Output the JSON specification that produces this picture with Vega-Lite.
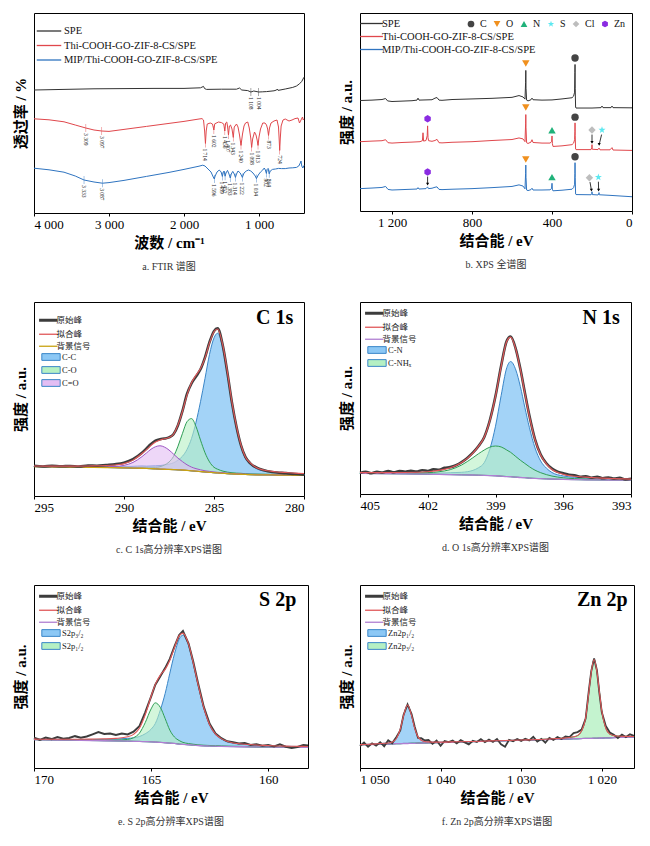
{
  "$schema": "https://vega.github.io/schema/vega-lite/v6.json",
  "background": "white",
  "padding": {"left": 12, "top": 12, "right": 4, "bottom": 4},
  "config": {
    "font": "Liberation Serif, Noto Sans CJK SC",
    "view": {"stroke": "#000", "strokeWidth": 1},
    "axis": {"grid": false, "domain": false, "labelFont": "Liberation Serif", "labelFontSize": 13, "labelColor": "#000", "titleFont": "Liberation Serif, Noto Sans CJK SC", "titleFontSize": 15, "titleFontWeight": "bold", "titleColor": "#000", "tickColor": "#000", "tickSize": 3, "labelPadding": 2, "titlePadding": 4},
    "axisY": {"labels": false, "ticks": false, "titlePadding": 6},
    "title": {"font": "Liberation Serif, Noto Sans CJK SC", "fontSize": 10, "fontWeight": "normal", "color": "#333", "orient": "bottom", "offset": 12}
  },
  "datasets": {
    "ftir": [
      {"wn":4000,"s":"spe","v":61.5},{"wn":3600,"s":"spe","v":61.8},{"wn":3200,"s":"spe","v":62.1},{"wn":2800,"s":"spe","v":62.2},{"wn":2400,"s":"spe","v":62.3},{"wn":2000,"s":"spe","v":62.3},{"wn":1780,"s":"spe","v":62.6},{"wn":1740,"s":"spe","v":63.3},{"wn":1725,"s":"spe","v":62.2},{"wn":1700,"s":"spe","v":61.8},{"wn":1500,"s":"spe","v":61.9},{"wn":1300,"s":"spe","v":61.9},{"wn":1260,"s":"spe","v":62.5},{"wn":1230,"s":"spe","v":61.5},{"wn":1150,"s":"spe","v":61.2},{"wn":1108,"s":"spe","v":60.5},{"wn":1070,"s":"spe","v":61.0},{"wn":1004,"s":"spe","v":60.5},{"wn":950,"s":"spe","v":60.6},{"wn":900,"s":"spe","v":60.7},{"wn":800,"s":"spe","v":61.1},{"wn":765,"s":"spe","v":61.5},{"wn":755,"s":"spe","v":62.0},{"wn":745,"s":"spe","v":61.3},{"wn":650,"s":"spe","v":62.0},{"wn":550,"s":"spe","v":62.8},{"wn":500,"s":"spe","v":63.5},{"wn":460,"s":"spe","v":64.6},{"wn":430,"s":"spe","v":65.8},{"wn":400,"s":"spe","v":67.9},
      {"wn":4000,"s":"thi","v":47.1},{"wn":3800,"s":"thi","v":46.6},{"wn":3600,"s":"thi","v":45.6},{"wn":3450,"s":"thi","v":44.0},{"wn":3309,"s":"thi","v":42.5},{"wn":3200,"s":"thi","v":41.5},{"wn":3097,"s":"thi","v":41.0},{"wn":3000,"s":"thi","v":40.8},{"wn":2800,"s":"thi","v":41.8},{"wn":2500,"s":"thi","v":43.3},{"wn":2200,"s":"thi","v":44.8},{"wn":2000,"s":"thi","v":45.8},{"wn":1800,"s":"thi","v":47.0},{"wn":1760,"s":"thi","v":47.2},{"wn":1740,"s":"thi","v":46.5},{"wn":1725,"s":"thi","v":41.0},{"wn":1714,"s":"thi","v":34.8},{"wn":1704,"s":"thi","v":41.0},{"wn":1690,"s":"thi","v":44.5},{"wn":1650,"s":"thi","v":45.0},{"wn":1620,"s":"thi","v":44.5},{"wn":1602,"s":"thi","v":41.5},{"wn":1590,"s":"thi","v":44.6},{"wn":1540,"s":"thi","v":45.5},{"wn":1500,"s":"thi","v":45.2},{"wn":1470,"s":"thi","v":44.5},{"wn":1456,"s":"thi","v":41.0},{"wn":1445,"s":"thi","v":45.0},{"wn":1430,"s":"thi","v":45.5},{"wn":1420,"s":"thi","v":43.5},{"wn":1407,"s":"thi","v":39.0},{"wn":1395,"s":"thi","v":43.5},{"wn":1380,"s":"thi","v":44.0},{"wn":1360,"s":"thi","v":42.0},{"wn":1343,"s":"thi","v":37.8},{"wn":1330,"s":"thi","v":43.0},{"wn":1300,"s":"thi","v":44.5},{"wn":1280,"s":"thi","v":43.0},{"wn":1260,"s":"thi","v":39.0},{"wn":1240,"s":"thi","v":33.8},{"wn":1220,"s":"thi","v":39.5},{"wn":1200,"s":"thi","v":43.5},{"wn":1180,"s":"thi","v":45.0},{"wn":1150,"s":"thi","v":45.5},{"wn":1130,"s":"thi","v":42.5},{"wn":1110,"s":"thi","v":37.5},{"wn":1098,"s":"thi","v":32.8},{"wn":1085,"s":"thi","v":37.0},{"wn":1060,"s":"thi","v":40.5},{"wn":1040,"s":"thi","v":39.0},{"wn":1025,"s":"thi","v":36.5},{"wn":1013,"s":"thi","v":33.8},{"wn":1000,"s":"thi","v":38.0},{"wn":980,"s":"thi","v":42.0},{"wn":950,"s":"thi","v":45.0},{"wn":920,"s":"thi","v":45.0},{"wn":900,"s":"thi","v":44.0},{"wn":885,"s":"thi","v":42.0},{"wn":873,"s":"thi","v":38.8},{"wn":860,"s":"thi","v":42.5},{"wn":840,"s":"thi","v":45.0},{"wn":800,"s":"thi","v":46.0},{"wn":760,"s":"thi","v":46.5},{"wn":740,"s":"thi","v":43.0},{"wn":730,"s":"thi","v":36.0},{"wn":724,"s":"thi","v":31.3},{"wn":716,"s":"thi","v":37.5},{"wn":705,"s":"thi","v":43.5},{"wn":680,"s":"thi","v":46.5},{"wn":650,"s":"thi","v":47.0},{"wn":600,"s":"thi","v":46.0},{"wn":560,"s":"thi","v":46.5},{"wn":520,"s":"thi","v":47.2},{"wn":480,"s":"thi","v":47.5},{"wn":460,"s":"thi","v":45.0},{"wn":440,"s":"thi","v":46.5},{"wn":420,"s":"thi","v":48.0},{"wn":410,"s":"thi","v":46.5},{"wn":400,"s":"thi","v":47.0},
      {"wn":4000,"s":"mip","v":22.4},{"wn":3800,"s":"mip","v":21.6},{"wn":3600,"s":"mip","v":20.4},{"wn":3450,"s":"mip","v":18.5},{"wn":3333,"s":"mip","v":16.5},{"wn":3200,"s":"mip","v":15.5},{"wn":3087,"s":"mip","v":14.9},{"wn":3000,"s":"mip","v":15.2},{"wn":2800,"s":"mip","v":16.3},{"wn":2500,"s":"mip","v":18.3},{"wn":2200,"s":"mip","v":20.3},{"wn":2000,"s":"mip","v":21.8},{"wn":1800,"s":"mip","v":23.4},{"wn":1750,"s":"mip","v":23.9},{"wn":1720,"s":"mip","v":23.5},{"wn":1680,"s":"mip","v":22.0},{"wn":1640,"s":"mip","v":20.5},{"wn":1610,"s":"mip","v":18.0},{"wn":1596,"s":"mip","v":17.0},{"wn":1585,"s":"mip","v":18.5},{"wn":1560,"s":"mip","v":20.5},{"wn":1530,"s":"mip","v":21.5},{"wn":1505,"s":"mip","v":20.5},{"wn":1489,"s":"mip","v":18.3},{"wn":1475,"s":"mip","v":20.5},{"wn":1465,"s":"mip","v":21.0},{"wn":1452,"s":"mip","v":18.4},{"wn":1440,"s":"mip","v":20.0},{"wn":1420,"s":"mip","v":21.3},{"wn":1400,"s":"mip","v":19.5},{"wn":1383,"s":"mip","v":17.5},{"wn":1370,"s":"mip","v":19.5},{"wn":1350,"s":"mip","v":20.8},{"wn":1330,"s":"mip","v":19.5},{"wn":1314,"s":"mip","v":17.8},{"wn":1300,"s":"mip","v":19.5},{"wn":1280,"s":"mip","v":21.0},{"wn":1250,"s":"mip","v":20.0},{"wn":1222,"s":"mip","v":17.8},{"wn":1200,"s":"mip","v":20.0},{"wn":1170,"s":"mip","v":21.0},{"wn":1140,"s":"mip","v":21.5},{"wn":1110,"s":"mip","v":21.0},{"wn":1080,"s":"mip","v":20.0},{"wn":1050,"s":"mip","v":18.5},{"wn":1034,"s":"mip","v":17.2},{"wn":1010,"s":"mip","v":19.0},{"wn":980,"s":"mip","v":20.5},{"wn":950,"s":"mip","v":21.5},{"wn":930,"s":"mip","v":22.5},{"wn":915,"s":"mip","v":21.5},{"wn":902,"s":"mip","v":19.8},{"wn":890,"s":"mip","v":21.8},{"wn":878,"s":"mip","v":22.3},{"wn":864,"s":"mip","v":19.6},{"wn":850,"s":"mip","v":21.0},{"wn":820,"s":"mip","v":21.8},{"wn":780,"s":"mip","v":22.0},{"wn":740,"s":"mip","v":22.3},{"wn":700,"s":"mip","v":22.2},{"wn":650,"s":"mip","v":22.2},{"wn":600,"s":"mip","v":22.5},{"wn":550,"s":"mip","v":22.6},{"wn":500,"s":"mip","v":22.8},{"wn":470,"s":"mip","v":23.5},{"wn":450,"s":"mip","v":25.0},{"wn":440,"s":"mip","v":26.0},{"wn":430,"s":"mip","v":23.5},{"wn":415,"s":"mip","v":22.5},{"wn":400,"s":"mip","v":23.8}
    ],
    "ftirPk": [
      {"wn":1108,"s":"spe","v":60.5,"t":"1 108"},{"wn":1004,"s":"spe","v":60.5,"t":"1 004"},
      {"wn":3309,"s":"thi","v":42.5,"t":"3 309"},{"wn":3097,"s":"thi","v":41.0,"t":"3 097"},{"wn":1714,"s":"thi","v":34.8,"t":"1 714"},{"wn":1602,"s":"thi","v":41.5,"t":"1 602"},{"wn":1456,"s":"thi","v":41.0,"t":"1 456"},{"wn":1407,"s":"thi","v":39.0,"t":"1 407"},{"wn":1343,"s":"thi","v":37.8,"t":"1 343"},{"wn":1240,"s":"thi","v":33.8,"t":"1 240"},{"wn":1098,"s":"thi","v":32.8,"t":"1 098"},{"wn":1013,"s":"thi","v":33.8,"t":"1 013"},{"wn":873,"s":"thi","v":38.8,"t":"873"},{"wn":724,"s":"thi","v":31.3,"t":"724"},
      {"wn":3333,"s":"mip","v":16.5,"t":"3 333"},{"wn":3087,"s":"mip","v":14.9,"t":"3 087"},{"wn":1596,"s":"mip","v":17.0,"t":"1 596"},{"wn":1489,"s":"mip","v":18.3,"t":"1 489"},{"wn":1452,"s":"mip","v":18.4,"t":"1 452"},{"wn":1383,"s":"mip","v":17.5,"t":"1 383"},{"wn":1314,"s":"mip","v":17.8,"t":"1 314"},{"wn":1222,"s":"mip","v":17.8,"t":"1 222"},{"wn":1034,"s":"mip","v":17.2,"t":"1 034"},{"wn":902,"s":"mip","v":19.8,"t":"902"},{"wn":864,"s":"mip","v":19.6,"t":"864"}
    ],
    "survey": [
      {"be":1360,"s":"spe","v":55.8},{"be":1300,"s":"spe","v":56.0},{"be":1250,"s":"spe","v":56.3},{"be":1232,"s":"spe","v":56.8},{"be":1222,"s":"spe","v":55.6},{"be":1200,"s":"spe","v":55.3},{"be":1150,"s":"spe","v":55.5},{"be":1100,"s":"spe","v":55.7},{"be":1075,"s":"spe","v":56.0},{"be":1070,"s":"spe","v":57.0},{"be":1065,"s":"spe","v":56.0},{"be":1000,"s":"spe","v":56.2},{"be":985,"s":"spe","v":57.0},{"be":975,"s":"spe","v":57.3},{"be":965,"s":"spe","v":56.0},{"be":950,"s":"spe","v":55.9},{"be":900,"s":"spe","v":56.3},{"be":800,"s":"spe","v":56.6},{"be":700,"s":"spe","v":56.9},{"be":600,"s":"spe","v":57.4},{"be":565,"s":"spe","v":58.3},{"be":545,"s":"spe","v":57.6},{"be":535,"s":"spe","v":56.5},{"be":532,"s":"spe","v":65.0},{"be":531,"s":"spe","v":71.0},{"be":530,"s":"spe","v":62.0},{"be":527,"s":"spe","v":56.0},{"be":520,"s":"spe","v":55.6},{"be":505,"s":"spe","v":56.2},{"be":500,"s":"spe","v":57.0},{"be":495,"s":"spe","v":56.2},{"be":450,"s":"spe","v":56.0},{"be":400,"s":"spe","v":56.1},{"be":350,"s":"spe","v":56.6},{"be":300,"s":"spe","v":57.2},{"be":292,"s":"spe","v":58.0},{"be":287,"s":"spe","v":60.0},{"be":285.5,"s":"spe","v":70.0},{"be":284.8,"s":"spe","v":74.0},{"be":284,"s":"spe","v":62.0},{"be":282,"s":"spe","v":52.5},{"be":280,"s":"spe","v":52.0},{"be":200,"s":"spe","v":52.0},{"be":155,"s":"spe","v":52.2},{"be":150,"s":"spe","v":53.0},{"be":145,"s":"spe","v":52.2},{"be":105,"s":"spe","v":52.2},{"be":100,"s":"spe","v":53.0},{"be":95,"s":"spe","v":52.2},{"be":0,"s":"spe","v":52.1},
      {"be":1360,"s":"thi","v":35.0},{"be":1300,"s":"thi","v":35.3},{"be":1250,"s":"thi","v":35.5},{"be":1232,"s":"thi","v":36.0},{"be":1220,"s":"thi","v":34.5},{"be":1200,"s":"thi","v":34.3},{"be":1150,"s":"thi","v":34.6},{"be":1100,"s":"thi","v":34.8},{"be":1060,"s":"thi","v":35.0},{"be":1048,"s":"thi","v":35.5},{"be":1045,"s":"thi","v":39.5},{"be":1042,"s":"thi","v":35.3},{"be":1030,"s":"thi","v":35.6},{"be":1024,"s":"thi","v":38.0},{"be":1022,"s":"thi","v":43.0},{"be":1020,"s":"thi","v":37.0},{"be":1017,"s":"thi","v":35.5},{"be":1000,"s":"thi","v":35.2},{"be":985,"s":"thi","v":35.6},{"be":975,"s":"thi","v":36.2},{"be":965,"s":"thi","v":34.5},{"be":950,"s":"thi","v":34.4},{"be":900,"s":"thi","v":34.7},{"be":800,"s":"thi","v":35.0},{"be":700,"s":"thi","v":35.6},{"be":600,"s":"thi","v":36.1},{"be":565,"s":"thi","v":36.9},{"be":545,"s":"thi","v":36.4},{"be":535,"s":"thi","v":35.0},{"be":532,"s":"thi","v":44.0},{"be":531,"s":"thi","v":48.7},{"be":530,"s":"thi","v":42.0},{"be":527,"s":"thi","v":34.5},{"be":520,"s":"thi","v":34.1},{"be":505,"s":"thi","v":34.8},{"be":500,"s":"thi","v":36.0},{"be":495,"s":"thi","v":34.6},{"be":450,"s":"thi","v":34.3},{"be":410,"s":"thi","v":34.3},{"be":402,"s":"thi","v":35.0},{"be":400,"s":"thi","v":37.9},{"be":398,"s":"thi","v":34.0},{"be":395,"s":"thi","v":32.6},{"be":350,"s":"thi","v":32.9},{"be":300,"s":"thi","v":33.5},{"be":292,"s":"thi","v":34.3},{"be":287,"s":"thi","v":36.0},{"be":285.5,"s":"thi","v":40.0},{"be":284.8,"s":"thi","v":44.5},{"be":284,"s":"thi","v":38.0},{"be":282,"s":"thi","v":31.3},{"be":280,"s":"thi","v":31.0},{"be":205,"s":"thi","v":31.0},{"be":201,"s":"thi","v":32.0},{"be":200,"s":"thi","v":33.5},{"be":199,"s":"thi","v":31.2},{"be":170,"s":"thi","v":31.0},{"be":165,"s":"thi","v":31.8},{"be":160,"s":"thi","v":30.9},{"be":110,"s":"thi","v":30.9},{"be":100,"s":"thi","v":32.0},{"be":95,"s":"thi","v":30.8},{"be":0,"s":"thi","v":30.6},
      {"be":1360,"s":"mip","v":11.3},{"be":1300,"s":"mip","v":11.6},{"be":1250,"s":"mip","v":11.9},{"be":1232,"s":"mip","v":12.4},{"be":1220,"s":"mip","v":10.9},{"be":1200,"s":"mip","v":10.6},{"be":1150,"s":"mip","v":10.8},{"be":1100,"s":"mip","v":11.0},{"be":1075,"s":"mip","v":11.1},{"be":1070,"s":"mip","v":11.8},{"be":1065,"s":"mip","v":11.1},{"be":1030,"s":"mip","v":11.3},{"be":1022,"s":"mip","v":12.2},{"be":1018,"s":"mip","v":11.3},{"be":1000,"s":"mip","v":11.5},{"be":985,"s":"mip","v":12.0},{"be":975,"s":"mip","v":12.2},{"be":965,"s":"mip","v":10.9},{"be":950,"s":"mip","v":10.8},{"be":900,"s":"mip","v":11.0},{"be":800,"s":"mip","v":11.3},{"be":700,"s":"mip","v":11.8},{"be":600,"s":"mip","v":12.4},{"be":565,"s":"mip","v":13.2},{"be":545,"s":"mip","v":12.6},{"be":535,"s":"mip","v":11.2},{"be":532,"s":"mip","v":19.0},{"be":531,"s":"mip","v":23.2},{"be":530,"s":"mip","v":17.0},{"be":527,"s":"mip","v":10.6},{"be":520,"s":"mip","v":10.3},{"be":505,"s":"mip","v":10.8},{"be":500,"s":"mip","v":11.5},{"be":495,"s":"mip","v":10.6},{"be":450,"s":"mip","v":10.6},{"be":410,"s":"mip","v":10.7},{"be":402,"s":"mip","v":11.4},{"be":400,"s":"mip","v":14.0},{"be":398,"s":"mip","v":10.6},{"be":395,"s":"mip","v":10.2},{"be":350,"s":"mip","v":10.5},{"be":300,"s":"mip","v":11.0},{"be":292,"s":"mip","v":11.8},{"be":287,"s":"mip","v":13.5},{"be":285.5,"s":"mip","v":19.0},{"be":284.8,"s":"mip","v":24.4},{"be":284,"s":"mip","v":17.0},{"be":282,"s":"mip","v":8.6},{"be":280,"s":"mip","v":8.3},{"be":205,"s":"mip","v":8.2},{"be":201,"s":"mip","v":8.7},{"be":200,"s":"mip","v":9.7},{"be":199,"s":"mip","v":8.3},{"be":170,"s":"mip","v":8.1},{"be":166,"s":"mip","v":8.6},{"be":165,"s":"mip","v":9.3},{"be":164,"s":"mip","v":8.2},{"be":110,"s":"mip","v":7.9},{"be":0,"s":"mip","v":7.2}
    ],
    "surveyMk": [
      {"be":531,"v":74.5,"el":"O"},{"be":284.8,"v":77.3,"el":"C"},
      {"be":1022,"v":46.6,"el":"Zn"},{"be":531,"v":52.3,"el":"O"},{"be":400,"v":40.8,"el":"N"},{"be":284.8,"v":47.4,"el":"C"},{"be":200,"v":40.9,"el":"Cl"},{"be":150,"v":40.9,"el":"S"},
      {"be":1022,"v":19.7,"el":"Zn"},{"be":531,"v":26.0,"el":"O"},{"be":400,"v":17.1,"el":"N"},{"be":284.8,"v":27.4,"el":"C"},{"be":213,"v":16.8,"el":"Cl"},{"be":168,"v":17.1,"el":"S"}
    ],
    "surveyAr": [
      {"be":200,"v":38.6,"be2":200,"v2":34.6},{"be":152,"v":38.6,"be2":164,"v2":33.6},
      {"be":1022,"v":17.4,"be2":1022,"v2":13.6},{"be":210,"v":14.6,"be2":203,"v2":10.6},{"be":168,"v":14.8,"be2":167,"v2":10.6}
    ],
    "c1s": [
      {"be":295,"bg":15.2,"cc":15.4,"co":15.3,"cdo":15.3,"fit":15.5},{"be":294,"bg":15.0,"cc":15.2,"co":15.1,"cdo":15.1,"fit":15.4},{"be":293,"bg":14.9,"cc":15.2,"co":15.0,"cdo":15.0,"fit":15.4},{"be":292,"bg":14.8,"cc":15.2,"co":14.9,"cdo":15.0,"fit":15.5},{"be":291,"bg":14.7,"cc":15.2,"co":14.9,"cdo":15.1,"fit":15.7},{"be":290.5,"bg":14.6,"cc":15.2,"co":14.8,"cdo":15.2,"fit":16.0},{"be":290,"bg":14.5,"cc":15.2,"co":14.8,"cdo":15.8,"fit":16.7},{"be":289.5,"bg":14.4,"cc":15.3,"co":14.7,"cdo":17.3,"fit":18.5},{"be":289,"bg":14.3,"cc":15.5,"co":14.8,"cdo":20.3,"fit":21.9},{"be":288.75,"bg":14.2,"cc":15.4,"co":14.8,"cdo":22.2,"fit":23.9},{"be":288.5,"bg":14.1,"cc":15.5,"co":14.8,"cdo":24.1,"fit":26.1},{"be":288.25,"bg":14.0,"cc":15.6,"co":14.8,"cdo":25.4,"fit":27.8},{"be":288,"bg":13.9,"cc":15.7,"co":15.1,"cdo":25.9,"fit":28.9},{"be":287.75,"bg":13.8,"cc":16.0,"co":16.0,"cdo":25.2,"fit":29.5},{"be":287.5,"bg":13.7,"cc":16.4,"co":17.5,"cdo":23.7,"fit":30.1},{"be":287.25,"bg":13.6,"cc":17.1,"co":20.4,"cdo":21.6,"fit":31.8},{"be":287,"bg":13.5,"cc":18.5,"co":25.7,"cdo":19.5,"fit":36.7},{"be":286.75,"bg":13.4,"cc":20.5,"co":32.3,"cdo":17.7,"fit":43.7},{"be":286.5,"bg":13.2,"cc":24.0,"co":38.3,"cdo":16.1,"fit":52.0},{"be":286.25,"bg":13.0,"cc":29.6,"co":39.9,"cdo":14.9,"fit":58.4},{"be":286,"bg":12.8,"cc":38.0,"co":35.8,"cdo":14.1,"fit":62.3},{"be":285.75,"bg":12.6,"cc":48.6,"co":28.8,"cdo":13.5,"fit":65.7},{"be":285.5,"bg":12.4,"cc":60.6,"co":22.3,"cdo":13.0,"fit":71.1},{"be":285.25,"bg":12.2,"cc":73.0,"co":17.6,"cdo":12.7,"fit":78.9},{"be":285,"bg":12.0,"cc":81.5,"co":14.8,"cdo":12.4,"fit":84.7},{"be":284.8,"bg":11.9,"cc":83.9,"co":13.8,"cdo":12.2,"fit":86.1},{"be":284.5,"bg":11.7,"cc":75.8,"co":12.8,"cdo":12.0,"fit":77.2},{"be":284.25,"bg":11.5,"cc":62.6,"co":12.3,"cdo":11.8,"fit":63.6},{"be":284,"bg":11.4,"cc":47.4,"co":12.0,"cdo":11.6,"fit":48.3},{"be":283.75,"bg":11.3,"cc":35.1,"co":11.8,"cdo":11.5,"fit":35.9},{"be":283.5,"bg":11.2,"cc":25.6,"co":11.7,"cdo":11.4,"fit":26.3},{"be":283.25,"bg":11.1,"cc":19.4,"co":11.5,"cdo":11.3,"fit":20.0},{"be":283,"bg":11.0,"cc":16.6,"co":11.4,"cdo":11.2,"fit":17.2},{"be":282.5,"bg":10.9,"cc":13.5,"co":11.3,"cdo":11.1,"fit":14.0},{"be":282,"bg":10.9,"cc":12.6,"co":11.2,"cdo":11.0,"fit":13.0},{"be":281.5,"bg":10.8,"cc":12.0,"co":11.1,"cdo":10.9,"fit":12.4},{"be":281,"bg":10.8,"cc":11.7,"co":11.0,"cdo":10.9,"fit":12.1},{"be":280.5,"bg":10.7,"cc":11.5,"co":10.9,"cdo":10.8,"fit":11.8},{"be":280,"bg":10.7,"cc":11.3,"co":10.9,"cdo":10.8,"fit":11.6}
    ],
    "c1sRaw": [
      {"be":295,"v":15.6},{"be":294.5,"v":15.2},{"be":294,"v":15.6},{"be":293.5,"v":15.3},{"be":293,"v":15.5},{"be":292.5,"v":15.2},{"be":292,"v":15.7},{"be":291.5,"v":15.6},{"be":291,"v":16.0},{"be":290.5,"v":16.4},{"be":290,"v":17.2},{"be":289.5,"v":19.0},{"be":289,"v":22.3},{"be":288.75,"v":24.5},{"be":288.5,"v":26.8},{"be":288.25,"v":28.5},{"be":288,"v":29.3},{"be":287.75,"v":29.6},{"be":287.5,"v":30.2},{"be":287.25,"v":31.8},{"be":287,"v":36.5},{"be":286.75,"v":43.9},{"be":286.5,"v":52.6},{"be":286.25,"v":58.0},{"be":286,"v":61.6},{"be":285.75,"v":65.3},{"be":285.5,"v":71.5},{"be":285.25,"v":79.3},{"be":285,"v":85.0},{"be":284.8,"v":86.4},{"be":284.5,"v":77.0},{"be":284.25,"v":63.2},{"be":284,"v":48.0},{"be":283.75,"v":35.6},{"be":283.5,"v":26.1},{"be":283.25,"v":20.0},{"be":283,"v":17.0},{"be":282.5,"v":14.1},{"be":282,"v":12.8},{"be":281.5,"v":12.1},{"be":281,"v":11.8},{"be":280.5,"v":11.3},{"be":280,"v":11.0}
    ],
    "n1s": [
      {"be":405,"bg":10.7,"cn":10.9,"nh":10.9,"fit":11.1},{"be":404,"bg":10.6,"cn":10.8,"nh":10.9,"fit":11.1},{"be":403,"bg":10.5,"cn":10.8,"nh":10.9,"fit":11.2},{"be":402,"bg":10.3,"cn":10.8,"nh":11.1,"fit":11.6},{"be":401.5,"bg":10.2,"cn":10.9,"nh":11.6,"fit":12.3},{"be":401,"bg":10.1,"cn":11.1,"nh":12.7,"fit":13.7},{"be":400.5,"bg":10.0,"cn":11.3,"nh":15.1,"fit":16.4},{"be":400,"bg":9.9,"cn":12.3,"nh":18.9,"fit":21.3},{"be":399.75,"bg":9.8,"cn":13.7,"nh":21.0,"fit":24.9},{"be":399.5,"bg":9.7,"cn":16.3,"nh":22.9,"fit":29.5},{"be":399.25,"bg":9.6,"cn":23.4,"nh":24.4,"fit":38.2},{"be":399,"bg":9.5,"cn":35.3,"nh":25.0,"fit":50.8},{"be":398.75,"bg":9.3,"cn":51.3,"nh":24.5,"fit":66.5},{"be":398.5,"bg":9.1,"cn":65.8,"nh":22.9,"fit":79.6},{"be":398.33,"bg":9.0,"cn":69.0,"nh":21.7,"fit":81.7},{"be":398.1,"bg":8.8,"cn":64.6,"nh":19.5,"fit":75.3},{"be":397.9,"bg":8.6,"cn":56.0,"nh":17.6,"fit":65.0},{"be":397.7,"bg":8.5,"cn":45.1,"nh":15.9,"fit":52.5},{"be":397.5,"bg":8.3,"cn":34.7,"nh":14.2,"fit":40.6},{"be":397.25,"bg":8.1,"cn":24.0,"nh":12.4,"fit":28.3},{"be":397,"bg":8.0,"cn":17.2,"nh":11.1,"fit":20.3},{"be":396.75,"bg":7.9,"cn":13.5,"nh":10.1,"fit":15.7},{"be":396.5,"bg":7.8,"cn":11.2,"nh":9.35,"fit":12.75},{"be":396,"bg":7.6,"cn":9.4,"nh":8.45,"fit":10.25},{"be":395.5,"bg":7.5,"cn":8.7,"nh":8.0,"fit":9.25},{"be":395,"bg":7.4,"cn":8.36,"nh":7.8,"fit":8.76},{"be":394,"bg":7.3,"cn":7.84,"nh":7.58,"fit":8.1},{"be":393,"bg":7.2,"cn":7.56,"nh":7.39,"fit":7.75}
    ],
    "n1sRaw": [
      {"be":405,"v":11.0},{"be":404.75,"v":11.6},{"be":404.5,"v":10.8},{"be":404.25,"v":11.5},{"be":404,"v":11.2},{"be":403.75,"v":11.9},{"be":403.5,"v":11.3},{"be":403.25,"v":12.0},{"be":403,"v":11.6},{"be":402.75,"v":12.1},{"be":402.5,"v":11.7},{"be":402.25,"v":12.4},{"be":402,"v":12.0},{"be":401.75,"v":12.8},{"be":401.5,"v":12.6},{"be":401.25,"v":13.6},{"be":401,"v":14.0},{"be":400.75,"v":15.0},{"be":400.5,"v":16.6},{"be":400.25,"v":18.8},{"be":400,"v":21.5},{"be":399.75,"v":25.0},{"be":399.5,"v":29.6},{"be":399.25,"v":38.4},{"be":399,"v":51.0},{"be":398.75,"v":66.8},{"be":398.5,"v":79.8},{"be":398.33,"v":82.0},{"be":398.1,"v":75.5},{"be":397.9,"v":65.2},{"be":397.7,"v":52.8},{"be":397.5,"v":40.9},{"be":397.25,"v":28.5},{"be":397,"v":20.6},{"be":396.75,"v":16.0},{"be":396.5,"v":13.2},{"be":396.25,"v":11.6},{"be":396,"v":10.8},{"be":395.75,"v":10.0},{"be":395.5,"v":9.8},{"be":395.25,"v":9.0},{"be":395,"v":9.2},{"be":394.75,"v":8.5},{"be":394.5,"v":9.0},{"be":394.25,"v":8.2},{"be":394,"v":8.6},{"be":393.75,"v":8.0},{"be":393.5,"v":8.4},{"be":393.25,"v":7.6},{"be":393,"v":7.9}
    ],
    "s2p": [
      {"be":170,"bg":15.5,"s32":15.7,"s12":15.56,"fit":15.8},{"be":169.5,"bg":15.4,"s32":15.67,"s12":15.46,"fit":15.7},{"be":169,"bg":15.3,"s32":15.63,"s12":15.38,"fit":15.7},{"be":168.5,"bg":15.2,"s32":15.56,"s12":15.3,"fit":15.7},{"be":168,"bg":15.1,"s32":15.55,"s12":15.23,"fit":15.7},{"be":167.5,"bg":15.0,"s32":15.6,"s12":15.17,"fit":15.8},{"be":167,"bg":14.9,"s32":15.68,"s12":15.16,"fit":15.9},{"be":166.5,"bg":14.8,"s32":15.8,"s12":15.21,"fit":16.2},{"be":166,"bg":14.7,"s32":16.2,"s12":15.63,"fit":17.1},{"be":165.75,"bg":14.6,"s32":16.45,"s12":16.54,"fit":18.4},{"be":165.5,"bg":14.5,"s32":17.2,"s12":19.0,"fit":21.7},{"be":165.25,"bg":14.4,"s32":18.7,"s12":24.8,"fit":29.1},{"be":165,"bg":14.3,"s32":21.2,"s12":32.3,"fit":39.2},{"be":164.82,"bg":14.2,"s32":24.3,"s12":35.6,"fit":45.7},{"be":164.6,"bg":14.0,"s32":31.9,"s12":33.0,"fit":50.9},{"be":164.4,"bg":13.8,"s32":40.7,"s12":27.0,"fit":53.9},{"be":164.2,"bg":13.6,"s32":51.8,"s12":20.7,"fit":58.9},{"be":164,"bg":13.4,"s32":62.4,"s12":16.9,"fit":65.9},{"be":163.8,"bg":13.1,"s32":70.4,"s12":15.0,"fit":72.3},{"be":163.64,"bg":12.9,"s32":72.6,"s12":14.0,"fit":73.7},{"be":163.4,"bg":12.7,"s32":67.0,"s12":13.35,"fit":67.65},{"be":163.2,"bg":12.5,"s32":57.0,"s12":13.0,"fit":57.5},{"be":163,"bg":12.3,"s32":45.7,"s12":12.69,"fit":46.1},{"be":162.75,"bg":12.1,"s32":32.7,"s12":12.45,"fit":33.05},{"be":162.5,"bg":12.0,"s32":23.3,"s12":12.3,"fit":23.6},{"be":162.25,"bg":11.9,"s32":18.2,"s12":12.18,"fit":18.5},{"be":162,"bg":11.8,"s32":15.8,"s12":12.06,"fit":16.06},{"be":161.5,"bg":11.7,"s32":13.5,"s12":11.9,"fit":13.7},{"be":161,"bg":11.6,"s32":12.8,"s12":11.77,"fit":12.97},{"be":160.5,"bg":11.5,"s32":12.4,"s12":11.64,"fit":12.54},{"be":160,"bg":11.5,"s32":12.16,"s12":11.62,"fit":12.28},{"be":159.5,"bg":11.4,"s32":11.9,"s12":11.51,"fit":12.0},{"be":159,"bg":11.4,"s32":11.82,"s12":11.5,"fit":11.92},{"be":158.3,"bg":11.3,"s32":11.63,"s12":11.39,"fit":11.72}
    ],
    "s2pRaw": [
      {"be":170,"v":16.5},{"be":169.75,"v":15.4},{"be":169.5,"v":16.6},{"be":169.25,"v":15.8},{"be":169,"v":16.9},{"be":168.75,"v":16.0},{"be":168.5,"v":16.4},{"be":168.25,"v":17.4},{"be":168,"v":16.6},{"be":167.75,"v":17.2},{"be":167.5,"v":18.4},{"be":167.25,"v":19.6},{"be":167,"v":18.6},{"be":166.75,"v":18.9},{"be":166.5,"v":18.0},{"be":166.25,"v":18.9},{"be":166,"v":18.3},{"be":165.75,"v":19.8},{"be":165.5,"v":22.8},{"be":165.25,"v":30.4},{"be":165,"v":39.0},{"be":164.82,"v":45.5},{"be":164.6,"v":50.3},{"be":164.4,"v":54.6},{"be":164.2,"v":59.6},{"be":164,"v":66.4},{"be":163.8,"v":72.6},{"be":163.64,"v":74.8},{"be":163.4,"v":68.0},{"be":163.2,"v":58.1},{"be":163,"v":46.6},{"be":162.75,"v":33.4},{"be":162.5,"v":24.1},{"be":162.25,"v":18.9},{"be":162,"v":16.3},{"be":161.75,"v":14.6},{"be":161.5,"v":14.1},{"be":161.25,"v":13.4},{"be":161,"v":13.6},{"be":160.75,"v":12.6},{"be":160.5,"v":13.0},{"be":160.25,"v":12.2},{"be":160,"v":12.5},{"be":159.75,"v":11.8},{"be":159.5,"v":12.9},{"be":159.25,"v":11.6},{"be":159,"v":10.9},{"be":158.75,"v":11.5},{"be":158.5,"v":12.6},{"be":158.3,"v":12.3}
    ],
    "zn": [
      {"be":1050,"bg":12.7,"a":12.8,"b":12.7,"fit":12.8},{"be":1049,"bg":12.8,"a":12.95,"b":12.8,"fit":12.95},{"be":1048,"bg":12.95,"a":13.2,"b":12.95,"fit":13.2},{"be":1047,"bg":13.1,"a":13.5,"b":13.1,"fit":13.5},{"be":1046.5,"bg":13.1,"a":13.7,"b":13.1,"fit":13.7},{"be":1046,"bg":13.2,"a":14.25,"b":13.2,"fit":14.25},{"be":1045.5,"bg":13.3,"a":16.0,"b":13.3,"fit":16.0},{"be":1045,"bg":13.3,"a":21.3,"b":13.3,"fit":21.3},{"be":1044.6,"bg":13.4,"a":28.5,"b":13.4,"fit":28.5},{"be":1044.1,"bg":13.4,"a":34.4,"b":13.4,"fit":34.4},{"be":1043.6,"bg":13.5,"a":28.6,"b":13.5,"fit":28.6},{"be":1043.2,"bg":13.5,"a":21.5,"b":13.5,"fit":21.5},{"be":1042.8,"bg":13.6,"a":17.0,"b":13.6,"fit":17.0},{"be":1042.4,"bg":13.6,"a":15.2,"b":13.6,"fit":15.2},{"be":1042,"bg":13.7,"a":14.5,"b":13.7,"fit":14.5},{"be":1041.5,"bg":13.75,"a":14.25,"b":13.75,"fit":14.25},{"be":1041,"bg":13.8,"a":14.16,"b":13.8,"fit":14.16},{"be":1040,"bg":13.9,"a":14.1,"b":13.94,"fit":14.14},{"be":1038,"bg":14.2,"a":14.3,"b":14.24,"fit":14.34},{"be":1036,"bg":14.4,"a":14.46,"b":14.45,"fit":14.51},{"be":1034,"bg":14.7,"a":14.74,"b":14.76,"fit":14.8},{"be":1032,"bg":14.9,"a":14.93,"b":14.98,"fit":15.0},{"be":1030,"bg":15.2,"a":15.2,"b":15.3,"fit":15.3},{"be":1028,"bg":15.4,"a":15.4,"b":15.55,"fit":15.55},{"be":1026,"bg":15.7,"a":15.7,"b":16.0,"fit":16.0},{"be":1025,"bg":15.8,"a":15.8,"b":16.27,"fit":16.27},{"be":1024,"bg":15.9,"a":15.9,"b":16.63,"fit":16.63},{"be":1023.5,"bg":16.0,"a":16.0,"b":17.03,"fit":17.03},{"be":1023,"bg":16.0,"a":16.0,"b":17.7,"fit":17.7},{"be":1022.5,"bg":16.1,"a":16.1,"b":20.3,"fit":20.3},{"be":1022,"bg":16.2,"a":16.2,"b":27.4,"fit":27.4},{"be":1021.6,"bg":16.2,"a":16.2,"b":41.6,"fit":41.6},{"be":1021.3,"bg":16.2,"a":16.2,"b":52.5,"fit":52.5},{"be":1020.95,"bg":16.3,"a":16.3,"b":59.3,"fit":59.3},{"be":1020.6,"bg":16.3,"a":16.3,"b":52.6,"fit":52.6},{"be":1020.3,"bg":16.4,"a":16.4,"b":41.8,"fit":41.8},{"be":1020,"bg":16.4,"a":16.4,"b":31.2,"fit":31.2},{"be":1019.5,"bg":16.5,"a":16.5,"b":21.7,"fit":21.7},{"be":1019,"bg":16.5,"a":16.5,"b":18.5,"fit":18.5},{"be":1018.5,"bg":16.6,"a":16.6,"b":17.7,"fit":17.7},{"be":1018,"bg":16.7,"a":16.7,"b":17.47,"fit":17.47},{"be":1017,"bg":16.8,"a":16.8,"b":17.27,"fit":17.27},{"be":1016,"bg":16.9,"a":16.9,"b":17.2,"fit":17.2}
    ],
    "znRaw": [
      {"be":1050,"v":12.0},{"be":1049.5,"v":13.9},{"be":1049,"v":11.6},{"be":1048.5,"v":13.5},{"be":1048,"v":12.2},{"be":1047.5,"v":14.1},{"be":1047,"v":11.9},{"be":1046.5,"v":15.2},{"be":1046,"v":13.6},{"be":1045.5,"v":16.8},{"be":1045,"v":20.5},{"be":1044.6,"v":29.0},{"be":1044.1,"v":34.8},{"be":1043.6,"v":29.5},{"be":1043.2,"v":22.4},{"be":1042.8,"v":16.4},{"be":1042.4,"v":16.3},{"be":1042,"v":15.1},{"be":1041.5,"v":15.3},{"be":1041,"v":13.2},{"be":1040.5,"v":15.0},{"be":1040,"v":12.1},{"be":1039.5,"v":14.8},{"be":1039,"v":14.2},{"be":1038.5,"v":15.0},{"be":1038,"v":13.4},{"be":1037.5,"v":15.2},{"be":1037,"v":14.0},{"be":1036.5,"v":12.9},{"be":1036,"v":14.9},{"be":1035.5,"v":14.2},{"be":1035,"v":15.8},{"be":1034.5,"v":14.1},{"be":1034,"v":15.5},{"be":1033.5,"v":14.2},{"be":1033,"v":15.9},{"be":1032.5,"v":13.0},{"be":1032,"v":11.6},{"be":1031.5,"v":15.4},{"be":1031,"v":14.6},{"be":1030.5,"v":15.9},{"be":1030,"v":14.8},{"be":1029.5,"v":16.0},{"be":1029,"v":15.1},{"be":1028.5,"v":17.0},{"be":1028,"v":14.4},{"be":1027.5,"v":15.9},{"be":1027,"v":13.8},{"be":1026.5,"v":16.5},{"be":1026,"v":15.3},{"be":1025.5,"v":16.9},{"be":1025,"v":15.8},{"be":1024.5,"v":17.2},{"be":1024,"v":16.9},{"be":1023.5,"v":19.1},{"be":1023,"v":19.6},{"be":1022.5,"v":21.0},{"be":1022,"v":27.0},{"be":1021.6,"v":42.5},{"be":1021.3,"v":53.0},{"be":1020.95,"v":59.8},{"be":1020.6,"v":53.4},{"be":1020.3,"v":41.0},{"be":1020,"v":30.6},{"be":1019.5,"v":22.9},{"be":1019,"v":19.4},{"be":1018.5,"v":18.2},{"be":1018,"v":16.4},{"be":1017.5,"v":18.3},{"be":1017,"v":16.9},{"be":1016.5,"v":18.4},{"be":1016,"v":17.6}
    ]
  },
  "columns": 2,
  "bounds": "flush",
  "spacing": {"row": 89, "column": 52},
  "resolve": {
    "scale": {"x": "independent", "y": "independent", "stroke": "independent", "fill": "independent", "color": "independent", "shape": "independent"},
    "legend": {"stroke": "independent", "fill": "independent", "color": "independent", "shape": "independent"}
  },
  "concat": [
    {
      "width": 270,
      "height": 200,
      "title": {"text": "a. FTIR 谱图"},
      "encoding": {
        "x": {"field": "wn", "type": "quantitative", "scale": {"domain": [4000, 400], "nice": false, "zero": false}, "axis": {"values": [4000, 3000, 2000, 1000], "labelExpr": "replace(format(datum.value, ','), ',', ' ')"}, "title": "波数 / cm⁻¹"},
        "y": {"field": "v", "type": "quantitative", "scale": {"domain": [0, 100]}, "title": "透过率 / %"}
      },
      "layer": [
        {
          "data": {"name": "ftir"},
          "mark": {"type": "line", "strokeWidth": 1},
          "encoding": {
            "stroke": {"field": "s", "type": "nominal", "scale": {"domain": ["spe", "thi", "mip"], "range": ["#333333", "#e0474c", "#2f74c0"]},
              "legend": {"orient": "none", "legendX": 8, "legendY": 11, "title": null, "symbolType": "M-2,0L2,0", "symbolSize": 150, "symbolStrokeWidth": 1.3, "labelFont": "Liberation Serif", "labelFontSize": 10.5, "labelColor": "#111", "labelLimit": 300, "labelOffset": 8, "rowPadding": 1.5, "padding": 0,
                "labelExpr": "datum.label === 'spe' ? 'SPE' : datum.label === 'thi' ? 'Thi-COOH-GO-ZIF-8-CS/SPE' : 'MIP/Thi-COOH-GO-ZIF-8-CS/SPE'"}}
          }
        },
        {
          "data": {"name": "ftirPk"},
          "mark": {"type": "tick", "orient": "vertical", "size": 8, "thickness": 0.6},
          "encoding": {
            "color": {"field": "s", "type": "nominal", "scale": {"domain": ["spe", "thi", "mip"], "range": ["#333333", "#e0474c", "#2f74c0"]}, "legend": null}
          }
        },
        {
          "data": {"name": "ftirPk"},
          "mark": {"type": "text", "angle": 90, "align": "left", "baseline": "middle", "dx": 5, "fontSize": 5.5, "font": "Liberation Serif", "color": "#222"},
          "encoding": {"text": {"field": "t"}}
        }
      ]
    },
    {
      "width": 272,
      "height": 198,
      "title": {"text": "b. XPS 全谱图"},
      "encoding": {
        "x": {"field": "be", "type": "quantitative", "scale": {"domain": [1360, 0], "nice": false, "zero": false}, "axis": {"values": [1200, 800, 400, 0], "labelExpr": "replace(format(datum.value, ','), ',', ' ')"}, "title": "结合能 / eV"}
      },
      "layer": [
        {
          "data": {"name": "survey"},
          "mark": {"type": "line", "strokeWidth": 1},
          "encoding": {
            "y": {"field": "v", "type": "quantitative", "scale": {"domain": [0, 100]}, "title": "强度 / a.u."},
            "stroke": {"field": "s", "type": "nominal", "scale": {"domain": ["spe", "thi", "mip"], "range": ["#333333", "#e0474c", "#2f74c0"]},
              "legend": {"orient": "none", "legendX": 5, "legendY": 4, "title": null, "symbolType": "M-2,0L2,0", "symbolSize": 130, "symbolStrokeWidth": 1.3, "labelFont": "Liberation Serif", "labelFontSize": 10.5, "labelColor": "#111", "labelLimit": 300, "rowPadding": 1, "padding": 0,
                "labelExpr": "datum.label === 'spe' ? 'SPE' : datum.label === 'thi' ? 'Thi-COOH-GO-ZIF-8-CS/SPE' : 'MIP/Thi-COOH-GO-ZIF-8-CS/SPE'"}}
          }
        },
        {
          "data": {"name": "surveyAr"},
          "mark": {"type": "rule", "color": "#000", "strokeWidth": 0.8},
          "encoding": {
            "y": {"field": "v", "type": "quantitative", "scale": {"domain": [0, 100]}, "title": "强度 / a.u."},
            "x2": {"field": "be2"},
            "y2": {"field": "v2"}
          }
        },
        {
          "data": {"name": "surveyAr"},
          "mark": {"type": "point", "shape": "triangle-down", "filled": true, "size": 10, "color": "#000", "opacity": 1},
          "encoding": {
            "x": {"field": "be2", "type": "quantitative"},
            "y": {"field": "v2", "type": "quantitative", "scale": {"domain": [0, 100]}, "title": "强度 / a.u."}
          }
        },
        {
          "data": {"name": "surveyMk"},
          "mark": {"type": "point", "filled": true, "size": 55, "opacity": 1},
          "encoding": {
            "y": {"field": "v", "type": "quantitative", "scale": {"domain": [0, 100]}, "title": "强度 / a.u."},
            "color": {"field": "el", "type": "nominal", "scale": {"domain": ["C", "O", "N", "S", "Cl", "Zn"], "range": ["#444444", "#f0901e", "#20b27a", "#5ce8f0", "#bdbdbd", "#8a2be2"]},
              "legend": {"orient": "top-right", "direction": "horizontal", "offset": 6, "title": null, "labelFont": "Liberation Serif", "labelFontSize": 10, "labelColor": "#111", "symbolSize": 45, "columnPadding": 5, "padding": 0}},
            "shape": {"field": "el", "type": "nominal", "scale": {"domain": ["C", "O", "N", "S", "Cl", "Zn"], "range": ["circle", "triangle-down", "triangle-up", "M0,-1L0.235,-0.324L0.951,-0.309L0.38,0.124L0.588,0.809L0,0.4L-0.588,0.809L-0.38,0.124L-0.951,-0.309L-0.235,-0.324Z", "diamond", "M0,-1L0.866,-0.5L0.866,0.5L0,1L-0.866,0.5L-0.866,-0.5Z"]},
              "legend": {"orient": "top-right", "direction": "horizontal", "offset": 6, "title": null, "labelFont": "Liberation Serif", "labelFontSize": 10, "labelColor": "#111", "symbolSize": 45, "columnPadding": 5, "padding": 0}}
          }
        }
      ]
    },
    {
      "width": 270,
      "height": 194,
      "title": {"text": "c. C 1s高分辨率XPS谱图"},
      "layer": [
        {
          "encoding": {
            "x": {"field": "be", "type": "quantitative", "scale": {"domain": [295, 280], "nice": false, "zero": false}, "axis": {"values": [295, 290, 285, 280]}, "title": "结合能 / eV"}
          },
          "layer": [
            {
              "data": {"name": "c1s"},
              "mark": {"type": "area", "interpolate": "monotone", "fillOpacity": 0.8, "stroke": "#3a86c8", "strokeWidth": 1},
              "encoding": {
                "y": {"field": "cc", "type": "quantitative", "scale": {"domain": [0, 100]}, "title": "强度 / a.u."},
                "y2": {"field": "bg"},
                "fill": {"datum": "cc", "type": "nominal", "scale": {"domain": ["cc", "co", "cdo"], "range": ["#8cc8f5", "#b5f0c3", "#e3bdf3"]},
                  "legend": {"orient": "none", "legendX": 10, "legendY": 48, "title": null, "symbolType": "M-1.5,-0.55H1.5V0.55H-1.5Z", "symbolSize": 150, "symbolStrokeWidth": 1, "labelFont": "Liberation Serif", "labelFontSize": 8.5, "labelColor": "#222", "rowPadding": 0, "padding": 0,
                    "labelExpr": "datum.label === 'cc' ? 'C-C' : datum.label === 'co' ? 'C-O' : 'C=O'",
                    "encode": {"symbols": {"update": {"stroke": {"signal": "datum.value === 'cc' ? '#3a86c8' : datum.value === 'co' ? '#2f9e55' : '#9e57c4'"}}}}}}
              }
            },
            {
              "data": {"name": "c1s"},
              "mark": {"type": "area", "interpolate": "monotone", "fillOpacity": 0.6, "stroke": "#2f9e55", "strokeWidth": 1},
              "encoding": {
                "y": {"field": "co", "type": "quantitative", "scale": {"domain": [0, 100]}, "title": "强度 / a.u."},
                "y2": {"field": "bg"},
                "fill": {"datum": "co", "type": "nominal"}
              }
            },
            {
              "data": {"name": "c1s"},
              "mark": {"type": "area", "interpolate": "monotone", "fillOpacity": 0.6, "stroke": "#9e57c4", "strokeWidth": 1},
              "encoding": {
                "y": {"field": "cdo", "type": "quantitative", "scale": {"domain": [0, 100]}, "title": "强度 / a.u."},
                "y2": {"field": "bg"},
                "fill": {"datum": "cdo", "type": "nominal"}
              }
            },
            {
              "data": {"name": "c1s"},
              "mark": {"type": "line", "interpolate": "monotone", "strokeWidth": 1.3},
              "encoding": {
                "y": {"field": "bg", "type": "quantitative", "scale": {"domain": [0, 100]}, "title": "强度 / a.u."},
                "stroke": {"datum": "bg", "type": "nominal", "scale": {"domain": ["raw", "fit", "bg"], "range": ["#3c3c3c", "#e0585a", "#c9a312"]},
                  "legend": {"orient": "none", "legendX": 10, "legendY": 14, "title": null, "symbolType": "M-1.5,0L1.5,0", "symbolSize": 150, "labelFont": "Noto Sans CJK SC", "labelFontSize": 8.5, "labelColor": "#222", "rowPadding": 3, "padding": 0,
                    "labelExpr": "datum.label === 'raw' ? '原始峰' : datum.label === 'fit' ? '拟合峰' : '背景信号'",
                    "encode": {"symbols": {"update": {"strokeWidth": {"signal": "datum.value === 'raw' ? 3 : 1.3"}}}}}}
              }
            },
            {
              "data": {"name": "c1sRaw"},
              "mark": {"type": "line", "interpolate": "monotone", "strokeWidth": 2.6},
              "encoding": {
                "y": {"field": "v", "type": "quantitative", "scale": {"domain": [0, 100]}, "title": "强度 / a.u."},
                "stroke": {"datum": "raw", "type": "nominal"}
              }
            },
            {
              "data": {"name": "c1s"},
              "mark": {"type": "line", "interpolate": "monotone", "strokeWidth": 1.1},
              "encoding": {
                "y": {"field": "fit", "type": "quantitative", "scale": {"domain": [0, 100]}, "title": "强度 / a.u."},
                "stroke": {"datum": "fit", "type": "nominal"}
              }
            }
          ]
        },
        {
          "data": {"values": [{"t": "C 1s"}]},
          "mark": {"type": "text", "align": "right", "baseline": "top", "fontSize": 20, "fontWeight": "bold", "font": "Liberation Serif", "color": "#000"},
          "encoding": {"x": {"datum": 280.6, "type": "quantitative"}, "y": {"datum": 97, "type": "quantitative"}, "text": {"field": "t"}}
        }
      ]
    },
    {
      "width": 271,
      "height": 192,
      "title": {"text": "d. O 1s高分辨率XPS谱图"},
      "layer": [
        {
          "encoding": {
            "x": {"field": "be", "type": "quantitative", "scale": {"domain": [405, 393], "nice": false, "zero": false}, "axis": {"values": [405, 402, 399, 396, 393]}, "title": "结合能 / eV"}
          },
          "layer": [
            {
              "data": {"name": "n1s"},
              "mark": {"type": "area", "interpolate": "monotone", "fillOpacity": 0.8, "stroke": "#3a86c8", "strokeWidth": 1},
              "encoding": {
                "y": {"field": "cn", "type": "quantitative", "scale": {"domain": [0, 100]}, "title": "强度 / a.u."},
                "y2": {"field": "bg"},
                "fill": {"datum": "cn", "type": "nominal", "scale": {"domain": ["cn", "nh"], "range": ["#8cc8f5", "#b5f0c3"]},
                  "legend": {"orient": "none", "legendX": 10, "legendY": 41, "title": null, "symbolType": "M-1.5,-0.55H1.5V0.55H-1.5Z", "symbolSize": 150, "symbolStrokeWidth": 1, "labelFont": "Liberation Serif", "labelFontSize": 8.5, "labelColor": "#222", "rowPadding": 0, "padding": 0,
                    "labelExpr": "datum.label === 'cn' ? 'C-N' : 'C-NHₓ'",
                    "encode": {"symbols": {"update": {"stroke": {"signal": "datum.value === 'cn' ? '#3a86c8' : '#2f9e55'"}}}}}}
              }
            },
            {
              "data": {"name": "n1s"},
              "mark": {"type": "area", "interpolate": "monotone", "fillOpacity": 0.6, "stroke": "#2f9e55", "strokeWidth": 1},
              "encoding": {
                "y": {"field": "nh", "type": "quantitative", "scale": {"domain": [0, 100]}, "title": "强度 / a.u."},
                "y2": {"field": "bg"},
                "fill": {"datum": "nh", "type": "nominal"}
              }
            },
            {
              "data": {"name": "n1s"},
              "mark": {"type": "line", "interpolate": "monotone", "strokeWidth": 1.3},
              "encoding": {
                "y": {"field": "bg", "type": "quantitative", "scale": {"domain": [0, 100]}, "title": "强度 / a.u."},
                "stroke": {"datum": "bg", "type": "nominal", "scale": {"domain": ["raw", "fit", "bg"], "range": ["#3c3c3c", "#e0585a", "#b07fd2"]},
                  "legend": {"orient": "none", "legendX": 10, "legendY": 7, "title": null, "symbolType": "M-1.5,0L1.5,0", "symbolSize": 150, "labelFont": "Noto Sans CJK SC", "labelFontSize": 8.5, "labelColor": "#222", "rowPadding": 3, "padding": 0,
                    "labelExpr": "datum.label === 'raw' ? '原始峰' : datum.label === 'fit' ? '拟合峰' : '背景信号'",
                    "encode": {"symbols": {"update": {"strokeWidth": {"signal": "datum.value === 'raw' ? 3 : 1.3"}}}}}}
              }
            },
            {
              "data": {"name": "n1sRaw"},
              "mark": {"type": "line", "interpolate": "monotone", "strokeWidth": 2.6},
              "encoding": {
                "y": {"field": "v", "type": "quantitative", "scale": {"domain": [0, 100]}, "title": "强度 / a.u."},
                "stroke": {"datum": "raw", "type": "nominal"}
              }
            },
            {
              "data": {"name": "n1s"},
              "mark": {"type": "line", "interpolate": "monotone", "strokeWidth": 1.2},
              "encoding": {
                "y": {"field": "fit", "type": "quantitative", "scale": {"domain": [0, 100]}, "title": "强度 / a.u."},
                "stroke": {"datum": "fit", "type": "nominal"}
              }
            }
          ]
        },
        {
          "data": {"values": [{"t": "N 1s"}]},
          "mark": {"type": "text", "align": "right", "baseline": "top", "fontSize": 20, "fontWeight": "bold", "font": "Liberation Serif", "color": "#000"},
          "encoding": {"x": {"datum": 393.5, "type": "quantitative"}, "y": {"datum": 97, "type": "quantitative"}, "text": {"field": "t"}}
        }
      ]
    },
    {
      "width": 274,
      "height": 183,
      "title": {"text": "e. S 2p高分辨率XPS谱图"},
      "layer": [
        {
          "encoding": {
            "x": {"field": "be", "type": "quantitative", "scale": {"domain": [170, 158.3], "nice": false, "zero": false}, "axis": {"values": [170, 165, 160]}, "title": "结合能 / eV"}
          },
          "layer": [
            {
              "data": {"name": "s2p"},
              "mark": {"type": "area", "interpolate": "monotone", "fillOpacity": 0.8, "stroke": "#3a86c8", "strokeWidth": 1},
              "encoding": {
                "y": {"field": "s32", "type": "quantitative", "scale": {"domain": [0, 100]}, "title": "强度 / a.u."},
                "y2": {"field": "bg"},
                "fill": {"datum": "s32", "type": "nominal", "scale": {"domain": ["s32", "s12"], "range": ["#8cc8f5", "#b5f0c3"]},
                  "legend": {"orient": "none", "legendX": 10, "legendY": 41, "title": null, "symbolType": "M-1.5,-0.55H1.5V0.55H-1.5Z", "symbolSize": 150, "symbolStrokeWidth": 1, "labelFont": "Liberation Serif", "labelFontSize": 8.5, "labelColor": "#222", "rowPadding": 0, "padding": 0,
                    "labelExpr": "datum.label === 's32' ? 'S2p₃/₂' : 'S2p₁/₂'",
                    "encode": {"symbols": {"update": {"stroke": {"signal": "datum.value === 's32' ? '#3a86c8' : '#2f9e55'"}}}}}}
              }
            },
            {
              "data": {"name": "s2p"},
              "mark": {"type": "area", "interpolate": "monotone", "fillOpacity": 0.6, "stroke": "#2f9e55", "strokeWidth": 1},
              "encoding": {
                "y": {"field": "s12", "type": "quantitative", "scale": {"domain": [0, 100]}, "title": "强度 / a.u."},
                "y2": {"field": "bg"},
                "fill": {"datum": "s12", "type": "nominal"}
              }
            },
            {
              "data": {"name": "s2p"},
              "mark": {"type": "line", "interpolate": "monotone", "strokeWidth": 1.3},
              "encoding": {
                "y": {"field": "bg", "type": "quantitative", "scale": {"domain": [0, 100]}, "title": "强度 / a.u."},
                "stroke": {"datum": "bg", "type": "nominal", "scale": {"domain": ["raw", "fit", "bg"], "range": ["#3c3c3c", "#e0585a", "#b07fd2"]},
                  "legend": {"orient": "none", "legendX": 10, "legendY": 7, "title": null, "symbolType": "M-1.5,0L1.5,0", "symbolSize": 150, "labelFont": "Noto Sans CJK SC", "labelFontSize": 8.5, "labelColor": "#222", "rowPadding": 3, "padding": 0,
                    "labelExpr": "datum.label === 'raw' ? '原始峰' : datum.label === 'fit' ? '拟合峰' : '背景信号'",
                    "encode": {"symbols": {"update": {"strokeWidth": {"signal": "datum.value === 'raw' ? 3 : 1.3"}}}}}}
              }
            },
            {
              "data": {"name": "s2pRaw"},
              "mark": {"type": "line", "strokeWidth": 2},
              "encoding": {
                "y": {"field": "v", "type": "quantitative", "scale": {"domain": [0, 100]}, "title": "强度 / a.u."},
                "stroke": {"datum": "raw", "type": "nominal"}
              }
            },
            {
              "data": {"name": "s2p"},
              "mark": {"type": "line", "interpolate": "monotone", "strokeWidth": 1.1},
              "encoding": {
                "y": {"field": "fit", "type": "quantitative", "scale": {"domain": [0, 100]}, "title": "强度 / a.u."},
                "stroke": {"datum": "fit", "type": "nominal"}
              }
            }
          ]
        },
        {
          "data": {"values": [{"t": "S 2p"}]},
          "mark": {"type": "text", "align": "right", "baseline": "top", "fontSize": 20, "fontWeight": "bold", "font": "Liberation Serif", "color": "#000"},
          "encoding": {"x": {"datum": 158.8, "type": "quantitative"}, "y": {"datum": 97, "type": "quantitative"}, "text": {"field": "t"}}
        }
      ]
    },
    {
      "width": 274,
      "height": 183,
      "title": {"text": "f. Zn 2p高分辨率XPS谱图"},
      "layer": [
        {
          "encoding": {
            "x": {"field": "be", "type": "quantitative", "scale": {"domain": [1050, 1016], "nice": false, "zero": false}, "axis": {"values": [1050, 1040, 1030, 1020], "labelExpr": "replace(format(datum.value, ','), ',', ' ')"}, "title": "结合能 / eV"}
          },
          "layer": [
            {
              "data": {"name": "zn"},
              "mark": {"type": "area", "interpolate": "monotone", "fillOpacity": 0.8, "stroke": "#3a86c8", "strokeWidth": 1},
              "encoding": {
                "y": {"field": "a", "type": "quantitative", "scale": {"domain": [0, 100]}, "title": "强度 / a.u."},
                "y2": {"field": "bg"},
                "fill": {"datum": "a", "type": "nominal", "scale": {"domain": ["a", "b"], "range": ["#8cc8f5", "#b5f0c3"]},
                  "legend": {"orient": "none", "legendX": 10, "legendY": 41, "title": null, "symbolType": "M-1.5,-0.55H1.5V0.55H-1.5Z", "symbolSize": 150, "symbolStrokeWidth": 1, "labelFont": "Liberation Serif", "labelFontSize": 8.5, "labelColor": "#222", "rowPadding": 0, "padding": 0,
                    "labelExpr": "datum.label === 'a' ? 'Zn2p₁/₂' : 'Zn2p₃/₂'",
                    "encode": {"symbols": {"update": {"stroke": {"signal": "datum.value === 'a' ? '#3a86c8' : '#2f9e55'"}}}}}}
              }
            },
            {
              "data": {"name": "zn"},
              "mark": {"type": "area", "interpolate": "monotone", "fillOpacity": 0.8, "stroke": "#2f9e55", "strokeWidth": 1},
              "encoding": {
                "y": {"field": "b", "type": "quantitative", "scale": {"domain": [0, 100]}, "title": "强度 / a.u."},
                "y2": {"field": "bg"},
                "fill": {"datum": "b", "type": "nominal"}
              }
            },
            {
              "data": {"name": "zn"},
              "mark": {"type": "line", "interpolate": "monotone", "strokeWidth": 1.3},
              "encoding": {
                "y": {"field": "bg", "type": "quantitative", "scale": {"domain": [0, 100]}, "title": "强度 / a.u."},
                "stroke": {"datum": "bg", "type": "nominal", "scale": {"domain": ["raw", "fit", "bg"], "range": ["#3c3c3c", "#e0585a", "#b07fd2"]},
                  "legend": {"orient": "none", "legendX": 10, "legendY": 7, "title": null, "symbolType": "M-1.5,0L1.5,0", "symbolSize": 150, "labelFont": "Noto Sans CJK SC", "labelFontSize": 8.5, "labelColor": "#222", "rowPadding": 3, "padding": 0,
                    "labelExpr": "datum.label === 'raw' ? '原始峰' : datum.label === 'fit' ? '拟合峰' : '背景信号'",
                    "encode": {"symbols": {"update": {"strokeWidth": {"signal": "datum.value === 'raw' ? 3 : 1.3"}}}}}}
              }
            },
            {
              "data": {"name": "znRaw"},
              "mark": {"type": "line", "strokeWidth": 1.8},
              "encoding": {
                "y": {"field": "v", "type": "quantitative", "scale": {"domain": [0, 100]}, "title": "强度 / a.u."},
                "stroke": {"datum": "raw", "type": "nominal"}
              }
            },
            {
              "data": {"name": "zn"},
              "mark": {"type": "line", "interpolate": "monotone", "strokeWidth": 1.1},
              "encoding": {
                "y": {"field": "fit", "type": "quantitative", "scale": {"domain": [0, 100]}, "title": "强度 / a.u."},
                "stroke": {"datum": "fit", "type": "nominal"}
              }
            }
          ]
        },
        {
          "data": {"values": [{"t": "Zn 2p"}]},
          "mark": {"type": "text", "align": "right", "baseline": "top", "fontSize": 20, "fontWeight": "bold", "font": "Liberation Serif", "color": "#000"},
          "encoding": {"x": {"datum": 1016.8, "type": "quantitative"}, "y": {"datum": 97, "type": "quantitative"}, "text": {"field": "t"}}
        }
      ]
    }
  ]
}
